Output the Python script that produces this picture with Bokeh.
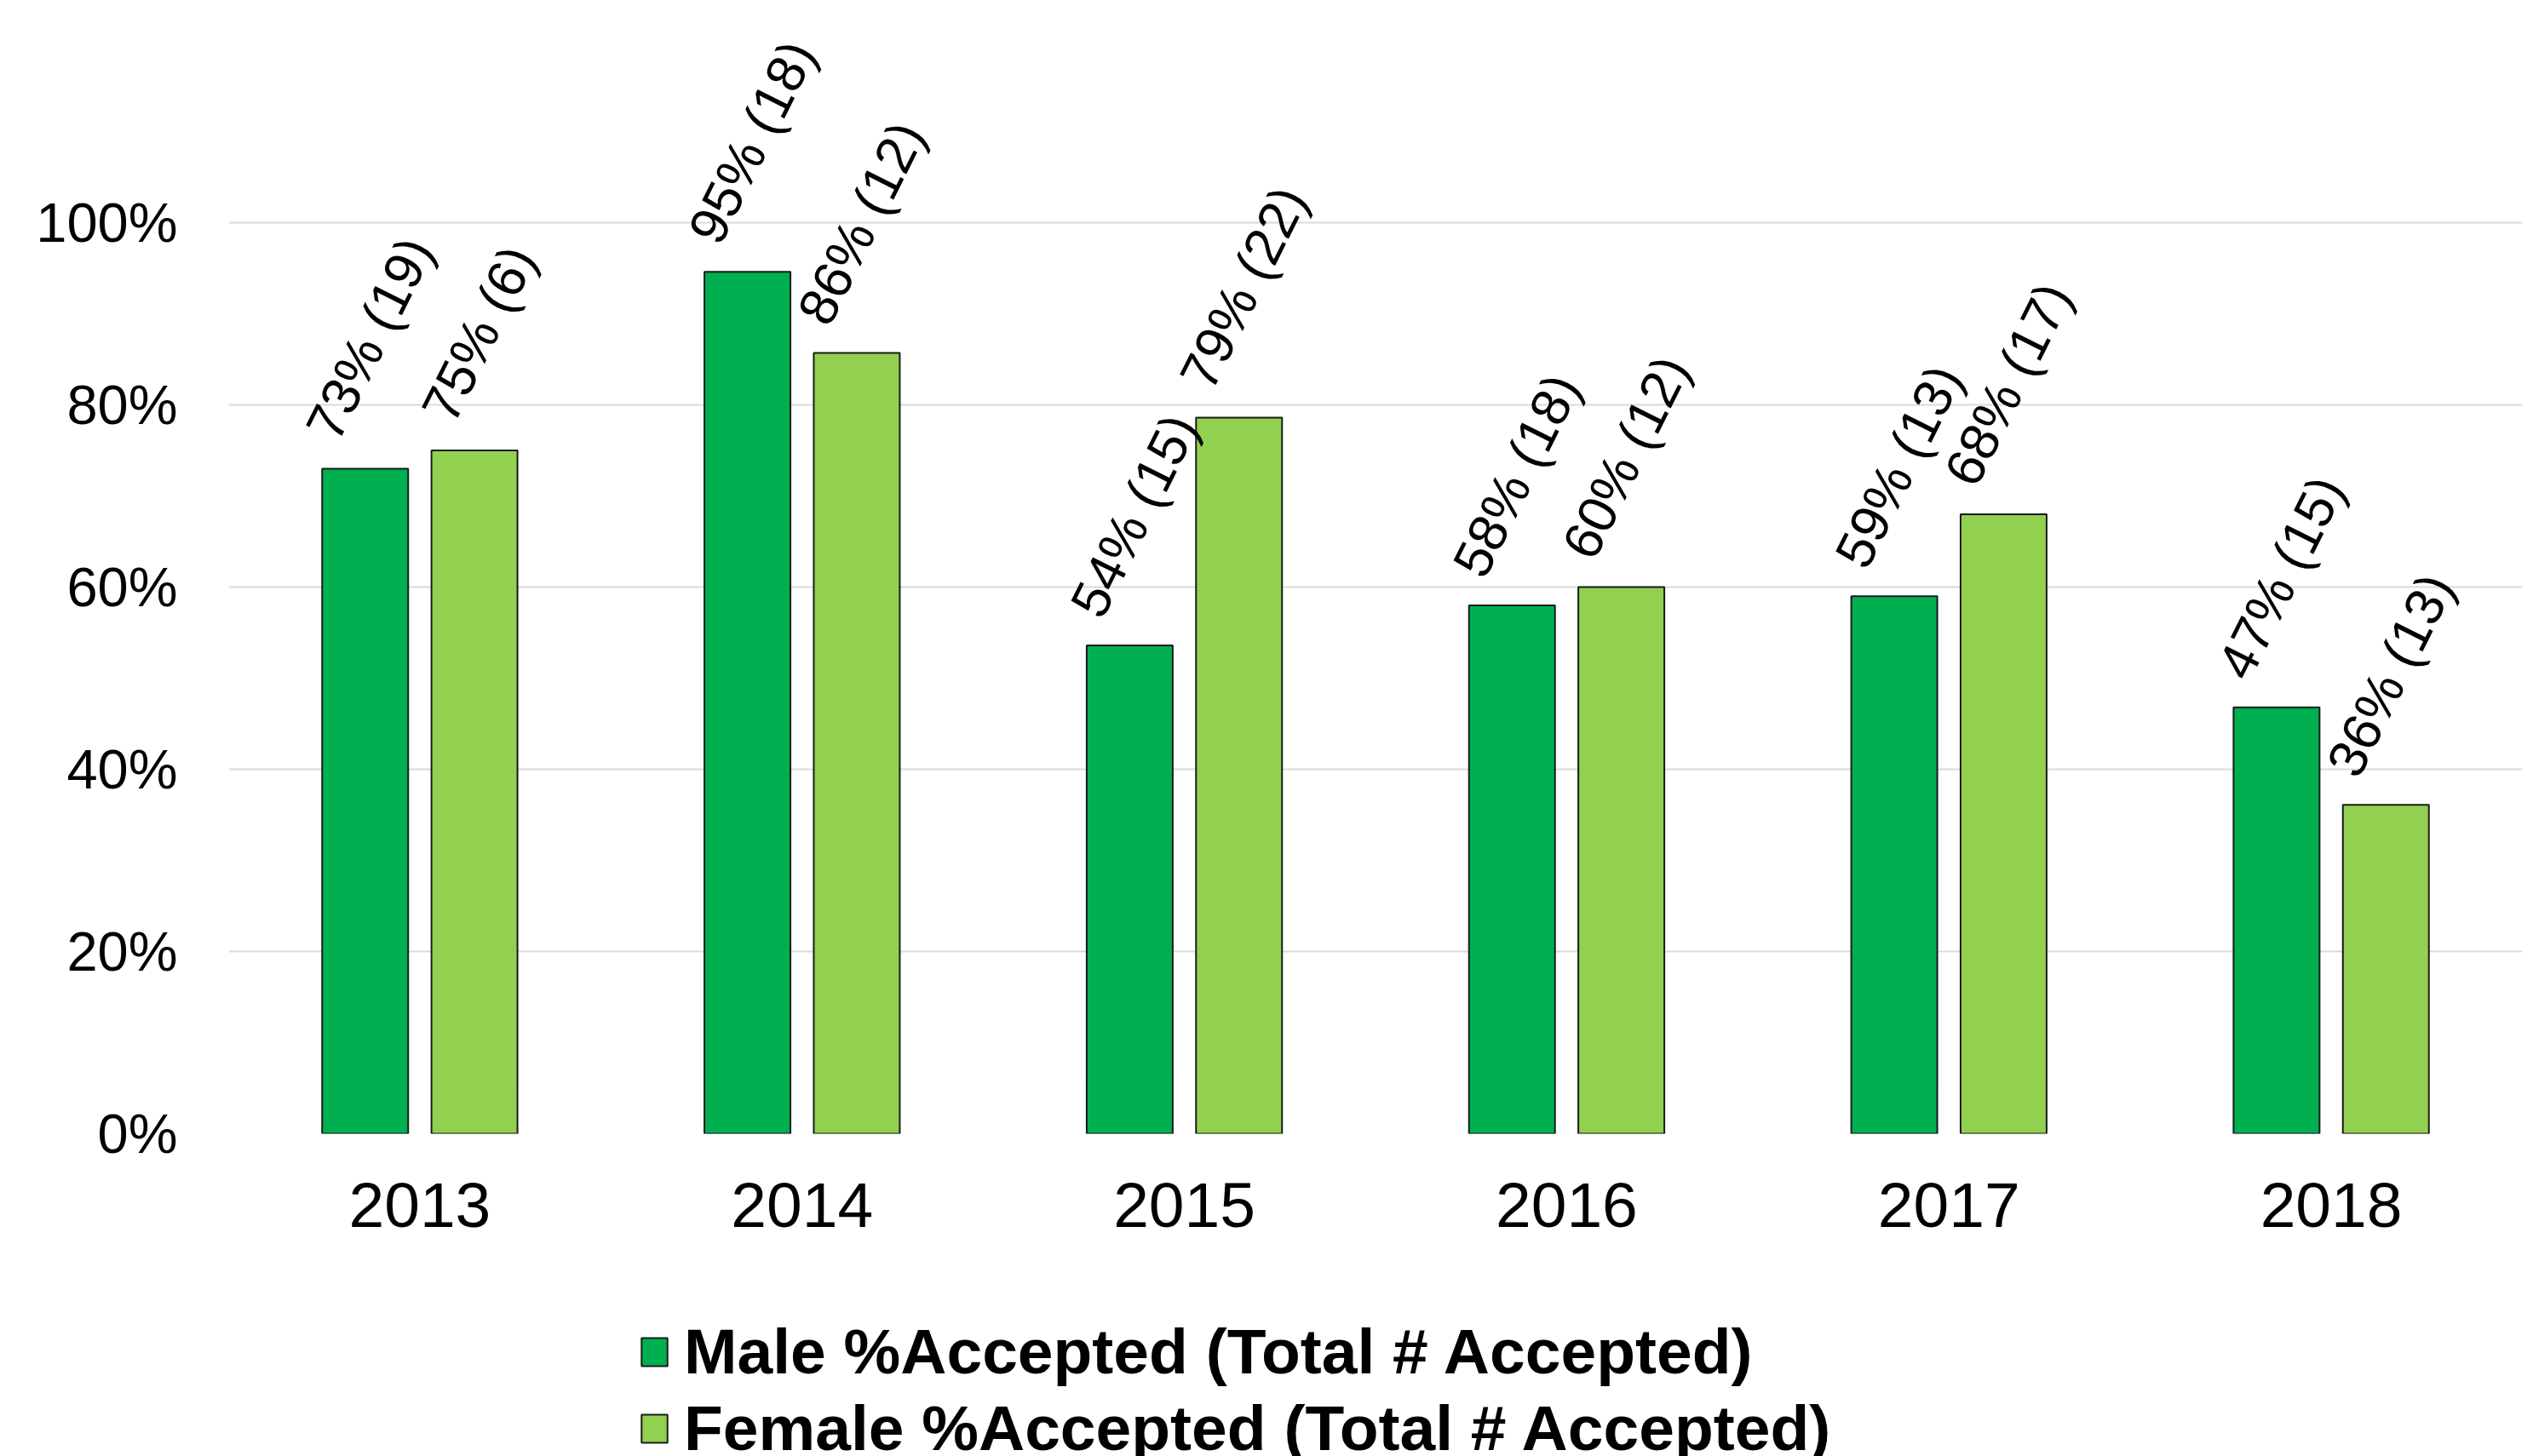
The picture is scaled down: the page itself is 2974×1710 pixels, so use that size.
import math
from bokeh.plotting import figure
from bokeh.layouts import column
from bokeh.models import (ColumnDataSource, FactorRange, Range1d, Legend, LegendItem,
                          NumeralTickFormatter, FixedTicker)
from bokeh.transform import dodge
from bokeh.core.properties import value
from bokeh.embed import file_html
from bokeh.resources import INLINE

# ---- data ----
years = ["2013", "2014", "2015", "2016", "2017", "2018"]
male_pct = [0.730, 0.946, 0.536, 0.580, 0.590, 0.468]
female_pct = [0.750, 0.857, 0.786, 0.600, 0.680, 0.361]
male_n = [19, 18, 15, 18, 13, 15]
female_n = [6, 12, 22, 12, 17, 13]
y_ticks = [0, 0.2, 0.4, 0.6, 0.8, 1.0]
male_name = "Male %Accepted (Total # Accepted)"
female_name = "Female %Accepted (Total # Accepted)"

FONT = "Liberation Sans"
LABEL_FS = 63
ANGLE = math.radians(63.5)
GAP = 31
MALE_COLOR = "#00B050"
FEMALE_COLOR = "#92D050"
EDGE = "#1a1a1a"

# approximate Arial advance widths (em) for offset computation
CW = {c: 0.556 for c in "0123456789"}
CW.update({"%": 0.889, " ": 0.278, "(": 0.333, ")": 0.333})


def label_offset(s):
    L = sum(CW.get(c, 0.556) for c in s) * LABEL_FS - 6
    H = 0.72 * LABEL_FS
    half = (L * math.sin(ANGLE) + H * math.cos(ANGLE)) / 2
    return -(half + GAP)


male_lab = [f"{round(p * 100)}% ({n})" for p, n in zip(male_pct, male_n)]
female_lab = [f"{round(p * 100)}% ({n})" for p, n in zip(female_pct, female_n)]

src = ColumnDataSource(dict(
    year=years, male=male_pct, female=female_pct,
    male_lab=male_lab, female_lab=female_lab,
    male_off=[label_offset(s) for s in male_lab],
    female_off=[label_offset(s) for s in female_lab],
))

p = figure(x_range=FactorRange(*years), y_range=Range1d(0, 1.2271),
           frame_width=2693, frame_height=1313,
           min_border_left=268, min_border_right=5, min_border_top=18, min_border_bottom=189,
           output_backend="svg", toolbar_location=None, background_fill_color="white",
           border_fill_color="white")
p.outline_line_color = None

OFF = 0.143
BW = 0.225
p.vbar(x=dodge("year", -OFF, range=p.x_range), top="male", width=BW, source=src,
       fill_color=MALE_COLOR, line_color=EDGE, line_width=2)
p.vbar(x=dodge("year", OFF, range=p.x_range), top="female", width=BW, source=src,
       fill_color=FEMALE_COLOR, line_color=EDGE, line_width=2)

for key, lab, off, dx in (("male", "male_lab", "male_off", -OFF), ("female", "female_lab", "female_off", OFF)):
    p.text(x=dodge("year", dx, range=p.x_range), y=key, text=lab, source=src,
           angle=ANGLE, text_align="center", text_baseline="middle",
           y_offset=off, x_offset=5,
           text_font=value(FONT), text_font_size=value(f"{LABEL_FS}px"), text_color="black")

# axes
p.xaxis.axis_line_color = None
p.xaxis.major_tick_line_color = None
p.xaxis.minor_tick_line_color = None
p.xaxis.major_label_text_font = FONT
p.xaxis.major_label_text_font_size = "75px"
p.xaxis.major_label_text_color = "black"
p.xaxis.major_label_standoff = 52

p.yaxis.ticker = FixedTicker(ticks=y_ticks)
p.yaxis.formatter = NumeralTickFormatter(format="0%")
p.yaxis.axis_line_color = None
p.yaxis.major_tick_line_color = None
p.yaxis.minor_tick_line_color = None
p.yaxis.major_label_text_font = FONT
p.yaxis.major_label_text_font_size = "65px"
p.yaxis.major_label_text_color = "black"
p.yaxis.major_label_standoff = 54

p.xgrid.grid_line_color = None
p.ygrid.grid_line_color = "#d9d9d9"
p.ygrid.grid_line_width = 2

# ---- legend strip (second figure; hidden copies of the two series give the keys) ----
lg = figure(x_range=FactorRange(*years), y_range=Range1d(0, 1),
            frame_width=2966, frame_height=190, min_border=0,
            x_axis_location=None, y_axis_location=None,
            output_backend="svg", toolbar_location=None,
            background_fill_color="white", border_fill_color="white")
lg.outline_line_color = None
lg.grid.grid_line_color = None
leg_m = lg.vbar(x="year", top="male", width=BW, source=src, visible=False,
                fill_color=MALE_COLOR, line_color=EDGE, line_width=2)
leg_f = lg.vbar(x="year", top="female", width=BW, source=src, visible=False,
                fill_color=FEMALE_COLOR, line_color=EDGE, line_width=2)

legend = Legend(items=[LegendItem(label=male_name, renderers=[leg_m]),
                       LegendItem(label=female_name, renderers=[leg_f])],
                location=(749, -10), orientation="vertical",
                padding=0, margin=0, spacing=4, label_height=86,
                glyph_width=38, glyph_height=41, label_standoff=16,
                label_text_font=FONT, label_text_font_style="bold",
                label_text_font_size="75px", label_text_color="black",
                inactive_fill_alpha=0, click_policy="none",
                border_line_color=None, background_fill_alpha=0)
lg.add_layout(legend, "center")

layout = column(p, lg, spacing=0)
open("out.html", "w").write(file_html(layout, INLINE))
